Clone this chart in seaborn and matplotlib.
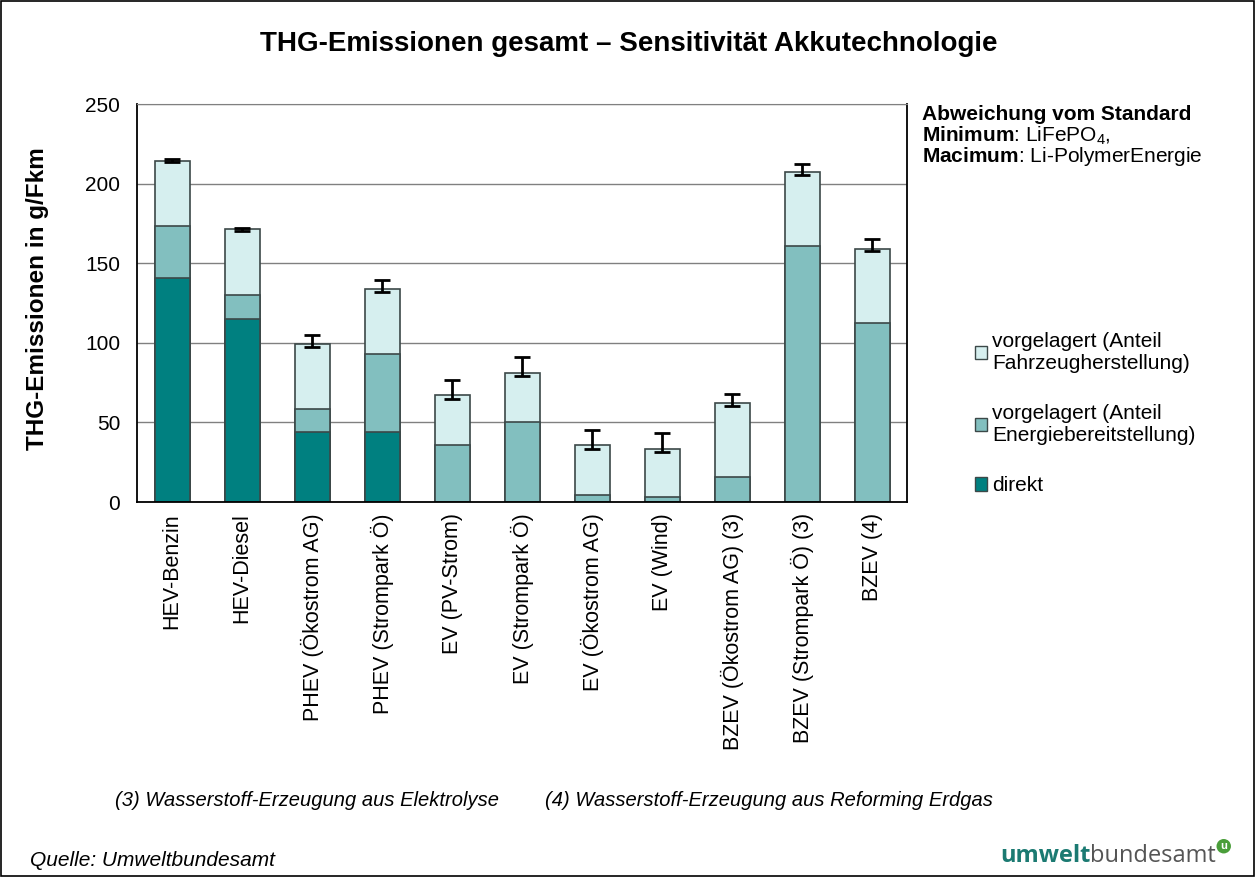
import matplotlib
matplotlib.use("Agg")
import matplotlib.pyplot as plt
import pandas as pd
import seaborn as sns
from matplotlib.patches import Patch, Rectangle

# Werte (g/Fkm)
categories = ["HEV-Benzin", "HEV-Diesel", "PHEV (Ökostrom AG)", "PHEV (Strompark Ö)",
              "EV (PV-Strom)", "EV (Strompark Ö)", "EV (Ökostrom AG)", "EV (Wind)",
              "BZEV (Ökostrom AG) (3)", "BZEV (Strompark Ö) (3)", "BZEV (4)"]
direkt = [141, 115, 44, 44, 0, 0, 0, 0, 0, 0, 0]
energie = [32.5, 15, 14.5, 49, 36, 50.5, 4.5, 3, 15.5, 160.5, 112.5]
fahrzeug = [41, 41.5, 41, 40.5, 31, 30.5, 31, 30.5, 46.5, 46.5, 46.5]
err_min = [213.5, 170.5, 97.5, 132, 64.5, 79, 33, 31.5, 60.5, 205.5, 157.5]
err_max = [215.5, 172, 105, 139.5, 76.5, 91, 45, 43.5, 68, 212, 165]

legend_labels = ["vorgelagert (Anteil\nFahrzeugherstellung)",
                 "vorgelagert (Anteil\nEnergiebereitstellung)",
                 "direkt"]

df = pd.DataFrame({"Kategorie": categories, "direkt": direkt,
                   "energie": energie, "fahrzeug": fahrzeug})
df["stufe2"] = df["direkt"] + df["energie"]
df["gesamt"] = df["stufe2"] + df["fahrzeug"]

sns.set_style("white")
plt.rcParams["font.family"] = ["Liberation Sans", "DejaVu Sans"]
plt.rcParams["mathtext.fontset"] = "custom"
plt.rcParams["mathtext.rm"] = "Liberation Sans"
plt.rcParams["mathtext.bf"] = "Liberation Sans:bold"
for key in ["text.color", "axes.labelcolor", "xtick.color", "ytick.color"]:
    plt.rcParams[key] = "black"

W, H = 1255, 877
fig = plt.figure(figsize=(12.55, 8.77), dpi=100)
ax = fig.add_axes([137 / W, 1 - 502 / H, (907 - 137) / W, 398 / H])

c_dark, c_mid, c_light = "#008080", "#82BFBF", "#D6EFEF"
edge = "#3C4848"

# gestapelte Balken: erst Gesamt, dann Teilsummen darüber
for col, color in [("gesamt", c_light), ("stufe2", c_mid), ("direkt", c_dark)]:
    sns.barplot(data=df, x="Kategorie", y=col, color=color, saturation=1,
                width=0.5, edgecolor=edge, linewidth=1.2, errorbar=None, ax=ax)

ax.errorbar(x=range(len(categories)), y=df["gesamt"],
            yerr=[df["gesamt"] - pd.Series(err_min), pd.Series(err_max) - df["gesamt"]],
            fmt="none", ecolor="black", elinewidth=2, capsize=6, capthick=2, zorder=5)

ax.set_xlim(-0.5, len(categories) - 0.5)
ax.set_ylim(0, 250)
ax.set_yticks(range(0, 251, 50))
ax.yaxis.grid(True, color="#808080", linewidth=1)
ax.set_axisbelow(True)
ax.set_xlabel("")
ax.set_ylabel("")

ax.set_xticks(range(len(categories)))
ax.set_xticklabels(categories, rotation=90, fontsize=15.5)
ax.set_xticks([i - 0.5 for i in range(len(categories) + 1)], minor=True)
ax.tick_params(axis="x", which="major", length=0, pad=8)
ax.tick_params(axis="x", which="minor", length=6, width=1, color="#808080", direction="out")
ax.tick_params(axis="y", length=6, width=1, color="#808080", direction="out", pad=6, labelsize=15)

for side in ["left", "bottom", "right"]:
    ax.spines[side].set_color("black")
    ax.spines[side].set_linewidth(1.3)
ax.spines["top"].set_color("#808080")

fig.text(629 / W, 1 - 44 / H, "THG-Emissionen gesamt – Sensitivität Akkutechnologie",
         ha="center", va="center", fontsize=20, fontweight="bold")
fig.text(38 / W, 1 - 299 / H, "THG-Emissionen in g/Fkm", rotation=90,
         ha="center", va="center", fontsize=17.5, fontweight="bold")

fig.text(922 / W, 1 - 115 / H, "Abweichung vom Standard", ha="left", va="center",
         fontsize=15, fontweight="bold")
fig.text(922 / W, 1 - 136 / H, r"$\bf{Minimum}$: LiFePO$_4$,", ha="left", va="center", fontsize=15)
fig.text(922 / W, 1 - 157 / H, r"$\bf{Macimum}$: Li-PolymerEnergie", ha="left", va="center", fontsize=15)

handles = [Patch(facecolor=c, edgecolor=edge, linewidth=1) for c in (c_light, c_mid, c_dark)]
fig.legend(handles, legend_labels, loc="upper left", bbox_to_anchor=(956 / W, 1 - 313 / H),
           frameon=False, fontsize=15, labelspacing=1.5, handlelength=0.6,
           handleheight=0.6, handletextpad=0.25)

fig.text(115 / W, 1 - 800 / H, "(3) Wasserstoff-Erzeugung aus Elektrolyse",
         ha="left", va="center", fontsize=14.5, style="italic")
fig.text(545 / W, 1 - 800 / H, "(4) Wasserstoff-Erzeugung aus Reforming Erdgas",
         ha="left", va="center", fontsize=14.5, style="italic")
fig.text(30 / W, 1 - 860 / H, "Quelle: Umweltbundesamt",
         ha="left", va="center", fontsize=15, style="italic")

# Logo-Schriftzug
t1 = fig.text(1000 / W, 1 - 856 / H, "umwelt", ha="left", va="center",
              fontsize=17, fontweight="bold", color="#1B7A72", family="Open Sans")
t2 = ax.annotate("bundesamt", xy=(1, 0), xycoords=t1, ha="left", va="bottom",
                 fontsize=17, color="#555555", family="Open Sans", annotation_clip=False)
ax.annotate("u", xy=(1, 1), xycoords=t2, xytext=(3, 2), textcoords="offset points",
            ha="left", va="top", fontsize=8, fontweight="bold", color="white",
            bbox=dict(boxstyle="circle,pad=0.2", fc="#4A9E3A", ec="none"),
            annotation_clip=False)

fig.patches.append(Rectangle((0.0008, 0.0008), 0.9984, 0.9984, transform=fig.transFigure,
                             fill=False, edgecolor="black", linewidth=1.2))

fig.savefig("out.png", dpi=100)
